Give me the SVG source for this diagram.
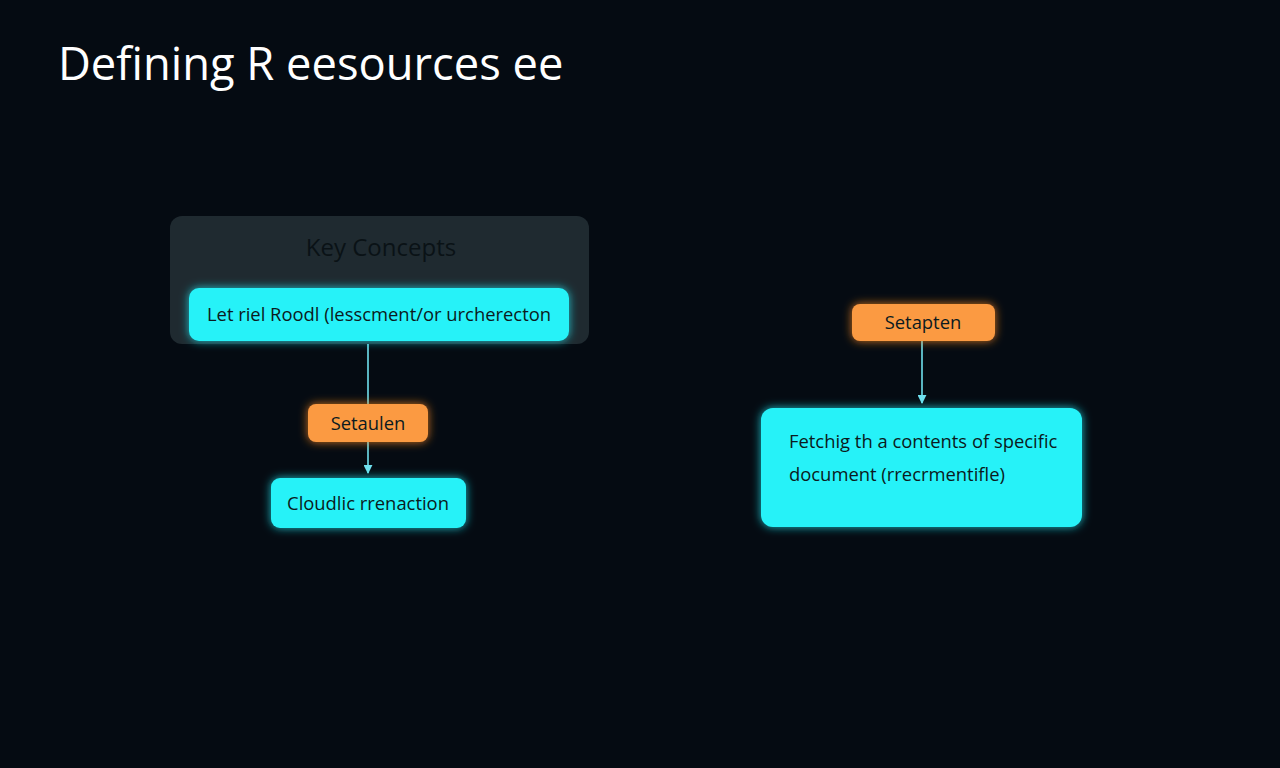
<svg xmlns="http://www.w3.org/2000/svg" width="1280" height="768" viewBox="0 0 1280 768">
<defs>
<style>
.title{font-family:"Open Sans","Liberation Sans",sans-serif;font-size:45.3px;fill:#ffffff}
.lbl{font-family:"Open Sans","Liberation Sans",sans-serif;font-size:18.4px;fill:#0b1a20}
.hdr{font-family:"Open Sans","Liberation Sans",sans-serif;font-size:24px;fill:#0a1216}
.cyan{fill:#26f2f8}
.orange{fill:#fb9a42}
.conn{stroke:#6fe0ee;stroke-width:1.6;fill:none}
</style>
<filter id="glowC" x="-20%" y="-50%" width="140%" height="200%">
<feFlood flood-color="#1fe8f5" flood-opacity="0.8"/>
<feComposite operator="in" in2="SourceAlpha"/>
<feGaussianBlur stdDeviation="5"/>
<feMerge><feMergeNode/><feMergeNode in="SourceGraphic"/></feMerge>
</filter>
<filter id="glowO" x="-20%" y="-50%" width="140%" height="200%">
<feFlood flood-color="#ff8a20" flood-opacity="0.8"/>
<feComposite operator="in" in2="SourceAlpha"/>
<feGaussianBlur stdDeviation="5"/>
<feMerge><feMergeNode/><feMergeNode in="SourceGraphic"/></feMerge>
</filter>
<marker id="arr" viewBox="0 0 10 10" refX="9" refY="5" markerWidth="9" markerHeight="9" orient="auto" markerUnits="userSpaceOnUse">
<path d="M0,0 L10,5 L0,10 z" fill="#6fe0ee"/>
</marker>
</defs>
<rect width="1280" height="768" fill="#050b12"/>
<text class="title" x="58" y="80">Defining R eesources ee</text>

<g id="panel">
<rect x="170" y="216" width="419" height="128" rx="12" fill="#1f2a30"/>
<text class="hdr" x="381" y="256" text-anchor="middle">Key Concepts</text>
</g>

<g id="connectors">
<line class="conn" x1="368" y1="344" x2="368" y2="404"/>
<line class="conn" x1="368" y1="442" x2="368" y2="473" marker-end="url(#arr)"/>
<line class="conn" x1="922" y1="341" x2="922" y2="403" marker-end="url(#arr)"/>
</g>

<g id="node-let">
<rect class="cyan" x="189" y="288" width="380" height="53" rx="10" filter="url(#glowC)"/>
<text class="lbl" x="379" y="321" text-anchor="middle">Let riel Roodl (lesscment/or urcherecton</text>
</g>
<g id="node-setaulen">
<rect class="orange" x="308" y="404" width="120" height="38" rx="8" filter="url(#glowO)"/>
<text class="lbl" x="368" y="430" text-anchor="middle">Setaulen</text>
</g>
<g id="node-cloudlic">
<rect class="cyan" x="271" y="478" width="195" height="50" rx="9" filter="url(#glowC)"/>
<text class="lbl" x="368" y="510" text-anchor="middle">Cloudlic rrenaction</text>
</g>
<g id="node-setapten">
<rect class="orange" x="852" y="304" width="143" height="37" rx="8" filter="url(#glowO)"/>
<text class="lbl" x="923" y="329" text-anchor="middle">Setapten</text>
</g>
<g id="node-fetch">
<rect class="cyan" x="761" y="408" width="321" height="119" rx="12" filter="url(#glowC)"/>
<text class="lbl" x="789" y="448">Fetchig th a contents of specific</text>
<text class="lbl" x="789" y="481">document (rrecrmentifle)</text>
</g>
</svg>
